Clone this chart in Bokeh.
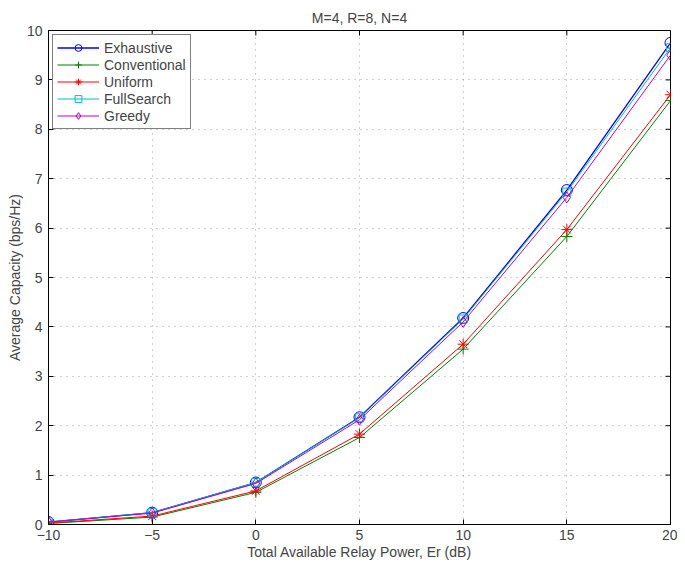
import math
from bokeh.plotting import figure
from bokeh.models import Range1d, FixedTicker
from bokeh.embed import file_html
from bokeh.resources import INLINE

x = [-10, -5, 0, 5, 10, 15, 20]
exhaustive = [0.05, 0.24, 0.85, 2.17, 4.18, 6.77, 9.75]
conventional = [0.02, 0.15, 0.65, 1.76, 3.55, 5.83, 8.58]
uniform = [0.03, 0.17, 0.68, 1.83, 3.65, 5.97, 8.70]
fullsearch = [0.05, 0.24, 0.85, 2.16, 4.16, 6.73, 9.65]
greedy = [0.05, 0.23, 0.83, 2.12, 4.10, 6.62, 9.50]

xticks = [-10, -5, 0, 5, 10, 15, 20]
yticks = list(range(0, 11))
xmin, xmax, ymin, ymax = -10, 20, 0, 10

FONT = "Liberation Sans"
FS = "14px"

p = figure(width=677, height=556, output_backend="svg", toolbar_location=None,
           x_range=Range1d(xmin, xmax), y_range=Range1d(ymin, ymax),
           frame_width=622, frame_height=494,
           min_border_left=48, min_border_right=7, min_border_top=30, min_border_bottom=32,
           title="M=4, R=8, N=4")
p.title.align = "center"
p.title.text_font = FONT
p.title.text_font_size = "14px"
p.title.text_font_style = "normal"
p.title.offset = 0
p.title.standoff = 10

p.outline_line_color = "black"
p.outline_line_width = 1

for ax in (p.xaxis[0], p.yaxis[0]):
    ax.major_tick_in = 5
    ax.major_tick_out = 0
    ax.minor_tick_line_color = None
    ax.axis_line_color = "black"
    ax.major_label_text_font = FONT
    ax.major_label_text_font_size = FS
    ax.axis_label_text_font = FONT
    ax.axis_label_text_font_size = FS
    ax.axis_label_text_font_style = "normal"
    ax.axis_label_standoff = 1
p.xaxis.major_label_standoff = 5
p.yaxis.major_label_standoff = 6

p.xaxis.ticker = FixedTicker(ticks=xticks)
p.yaxis.ticker = FixedTicker(ticks=yticks)
p.xaxis.major_label_overrides = {t: (str(t).replace("-", "\u2212")) for t in xticks}
p.xaxis.axis_label = "Total Available Relay Power, Er (dB)"
p.yaxis.axis_label = "Average Capacity (bps/Hz)"

# inward ticks on the right and top edges of the box
p.ray(x=[xmax] * len(yticks), y=yticks, length=5, length_units="screen",
      angle=math.pi, line_color="black", line_width=1)
p.ray(x=xticks, y=[ymax] * len(xticks), length=5, length_units="screen",
      angle=-math.pi / 2, line_color="black", line_width=1)

p.xgrid.ticker = FixedTicker(ticks=xticks)
p.ygrid.ticker = FixedTicker(ticks=yticks)
for g in (p.xgrid[0], p.ygrid[0]):
    g.grid_line_color = "#a0a0a0"
    g.grid_line_dash = "1 5"
    g.grid_line_width = 1

series = [
    ("Exhaustive", exhaustive, "#0000ff", "circle", 1.3),
    ("Conventional", conventional, "#008000", "cross", 1.0),
    ("Uniform", uniform, "#ff0000", "asterisk", 1.0),
    ("FullSearch", fullsearch, "#00bfbf", "square", 1.0),
    ("Greedy", greedy, "#bf00bf", "diamond", 1.0),
]

for name, ys, color, marker, lw in series:
    p.line(x, ys, line_color=color, line_width=lw, legend_label=name)
    p.scatter(x, ys, marker=marker, size=11 if marker != "square" else 8,
              line_color=color, fill_color=None, line_width=1, legend_label=name)

p.legend.location = "top_left"
p.legend.border_line_color = "black"
p.legend.border_line_width = 1
p.legend.label_text_font = FONT
p.legend.label_text_font_size = FS
p.legend.margin = 4
p.legend.padding = 4
p.legend.spacing = 0
p.legend.glyph_width = 42
p.legend.label_height = 17
p.legend.glyph_height = 17
p.legend.label_standoff = 5
p.legend.background_fill_alpha = 1

open("out.html", "w").write(file_html(p, INLINE))
